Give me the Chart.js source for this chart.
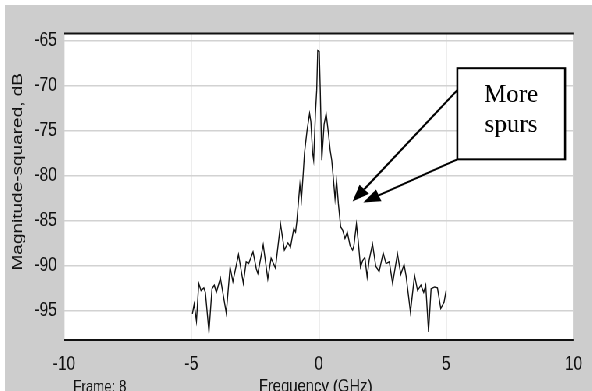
<!DOCTYPE html>
<html>
<head>
<meta charset="utf-8">
<script src="https://cdn.jsdelivr.net/npm/chart.js@4.4.1/dist/chart.umd.min.js"></script>
<style>
    html, body { margin: 0; padding: 0; background: #fff; }
    body { width: 592px; height: 391px; overflow: hidden; position: relative; }
    /* scope window is drawn wide, then squeezed horizontally */
    #panel {
        position: absolute; left: 5px; top: 5px;
        width: 752px; height: 386px;
        background: #cdcdcd;
        transform: scaleX(0.78); transform-origin: 0 0;
    }
</style>
</head>
<body>
<div id="panel"><canvas id="spectrum"></canvas></div>
<script>
"use strict";

var SQUEEZE = 0.78;

/* spectrum trace, frame 8 */
var freqGHz = [-4.96, -4.89, -4.80, -4.71, -4.62, -4.51, -4.45, -4.31, -4.19, -4.10,
    -4.02, -3.86, -3.63, -3.48, -3.37, -3.15, -2.96, -2.85, -2.75, -2.58,
    -2.45, -2.39, -2.18, -2.00, -1.87, -1.70, -1.50, -1.35, -1.21, -1.11,
    -0.98, -0.91, -0.86, -0.74, -0.68, -0.61, -0.56, -0.46, -0.36, -0.31,
    -0.24, -0.20, -0.13, -0.08, -0.04, 0.02, 0.06, 0.12, 0.21, 0.29,
    0.38, 0.45, 0.51, 0.57, 0.64, 0.70, 0.77, 0.86, 0.94, 1.03,
    1.12, 1.23, 1.33, 1.38, 1.48, 1.55, 1.64, 1.72, 1.81, 1.90,
    1.98, 2.11, 2.24, 2.37, 2.53, 2.64, 2.77, 2.90, 3.09, 3.22,
    3.35, 3.43, 3.60, 3.76, 3.88, 4.01, 4.12, 4.20, 4.31, 4.41,
    4.55, 4.66, 4.79, 4.92, 5.00];
var magDb = [-95.4, -94.3, -96.2, -92.0, -92.8, -92.5, -93.0, -97.4, -92.6, -92.2,
    -93.0, -91.4, -95.3, -90.2, -91.8, -88.8, -92.0, -89.6, -89.8, -88.5,
    -90.4, -90.9, -87.7, -91.5, -89.2, -90.3, -85.4, -88.3, -87.5, -88.0,
    -85.9, -86.3, -85.1, -81.0, -82.7, -79.8, -77.5, -75.0, -73.1, -74.0,
    -77.5, -78.3, -73.1, -70.5, -66.1, -66.2, -70.5, -78.3, -74.3, -73.1,
    -75.3, -77.2, -78.3, -80.2, -82.6, -80.5, -83.1, -85.7, -86.1, -87.0,
    -86.3, -87.8, -88.3, -87.8, -85.4, -87.3, -90.2, -89.5, -89.1, -91.3,
    -89.4, -87.6, -90.1, -90.7, -88.6, -89.8, -89.6, -92.0, -88.7, -91.0,
    -89.9, -91.2, -95.2, -91.1, -92.8, -92.2, -93.0, -92.2, -97.4, -92.6,
    -92.4, -92.5, -94.8, -94.1, -92.8];

var xTicks = [-10, -5, 0, 5, 10];
var yTicks = [-95, -90, -85, -80, -75, -70, -65];

var xTitle = 'Frequency (GHz)';
var yTitle = 'Magnitude-squared, dB';
var frameLabel = 'Frame: 8';
var noteLines = ['More', 'spurs'];

var sansFont = "'Liberation Sans', Arial, sans-serif";
var serifFont = "'Liberation Serif', 'Times New Roman', serif";

var points = freqGHz.map(function (f, i) {
    return { x: f, y: magDb[i] };
});

/* white plot face, black rails, titles and the callout */
var scopeFrame = {
    id: 'scopeFrame',
    beforeDraw: function (chart) {
        var ctx = chart.ctx, a = chart.chartArea;
        ctx.save();
        ctx.fillStyle = '#ffffff';
        ctx.fillRect(a.left, a.top, a.right - a.left, a.bottom - a.top);
        ctx.restore();
    },
    afterDraw: function (chart) {
        var ctx = chart.ctx, a = chart.chartArea;
        var xs = chart.scales.x, ys = chart.scales.y;

        ctx.save();
        ctx.strokeStyle = '#111';
        ctx.lineWidth = 2.2;
        ctx.beginPath();
        ctx.moveTo(a.left, a.top);
        ctx.lineTo(a.right, a.top);
        ctx.moveTo(a.left, a.bottom);
        ctx.lineTo(a.right, a.bottom);
        ctx.stroke();

        ctx.fillStyle = '#111';
        ctx.textBaseline = 'alphabetic';
        ctx.textAlign = 'left';
        ctx.font = '17px ' + sansFont;
        ctx.fillText(frameLabel, a.left + 12, chart.height + 1);
        ctx.textAlign = 'center';
        ctx.font = '19px ' + sansFont;
        ctx.fillText(xTitle, (a.left + a.right) / 2 - 4, chart.height + 1);

        ctx.translate(16.7, (a.top + a.bottom) / 2 - 15);
        ctx.rotate(-Math.PI / 2);
        ctx.textBaseline = 'middle';
        ctx.fillText(yTitle, 0, 0);
        ctx.restore();

        // callout is drawn unsqueezed
        var px = function (v) { return xs.getPixelForValue(v) * SQUEEZE; };
        var py = function (v) { return ys.getPixelForValue(v); };

        ctx.save();
        ctx.scale(1 / SQUEEZE, 1);
        ctx.strokeStyle = '#000';
        ctx.fillStyle = '#000';
        ctx.lineWidth = 2;

        function arrow(x0, y0, x1, y1) {
            var ang = Math.atan2(y1 - y0, x1 - x0), len = 17, half = 6.5;
            var bx = x1 - len * Math.cos(ang), by = y1 - len * Math.sin(ang);
            ctx.beginPath();
            ctx.moveTo(x0, y0);
            ctx.lineTo(bx, by);
            ctx.stroke();
            ctx.beginPath();
            ctx.moveTo(x1, y1);
            ctx.lineTo(bx + half * Math.sin(ang), by - half * Math.cos(ang));
            ctx.lineTo(bx - half * Math.sin(ang), by + half * Math.cos(ang));
            ctx.closePath();
            ctx.fill();
        }
        arrow(px(5.44), py(-70.5), px(1.33), py(-82.9));
        arrow(px(5.44), py(-78.2), px(1.75), py(-83.0));

        var bx0 = px(5.44), by0 = py(-68.06), bx1 = px(9.67), by1 = py(-78.2);
        ctx.fillStyle = '#ffffff';
        ctx.fillRect(bx0, by0, bx1 - bx0, by1 - by0);
        ctx.strokeRect(bx0, by0, bx1 - bx0, by1 - by0);

        ctx.fillStyle = '#000';
        ctx.font = '25px ' + serifFont;
        ctx.textAlign = 'center';
        ctx.textBaseline = 'alphabetic';
        ctx.fillText(noteLines[0], px(7.55), py(-71.8));
        ctx.fillText(noteLines[1], px(7.55), py(-75.15));
        ctx.restore();
    }
};

var ctx = document.getElementById('spectrum').getContext('2d');

var spectrumConfig = {
    type: 'scatter',
    data: {
        datasets: [{
            label: 'Magnitude-squared',
            data: points,
            showLine: true,
            pointRadius: 0,
            borderColor: '#111111',
            borderWidth: 1.4,
            tension: 0,
            fill: false
        }]
    },
    options: {
        animation: false,
        responsive: true,
        maintainAspectRatio: false,
        layout: {
            padding: { left: 0, top: 28.5, right: 18.7, bottom: 0 }
        },
        plugins: {
            legend: { display: false },
            tooltip: { enabled: false }
        },
        scales: {
            x: {
                type: 'linear',
                min: -10,
                max: 10,
                afterBuildTicks: function (scale) {
                    scale.ticks = xTicks.map(function (v) { return { value: v }; });
                },
                afterFit: function (scale) { scale.height = 51; },
                grid: { color: '#d2d2d2', lineWidth: 1.4, drawTicks: false },
                border: { display: false },
                ticks: {
                    padding: 12,
                    maxRotation: 0,
                    color: '#111',
                    font: { family: sansFont, size: 20 }
                }
            },
            y: {
                type: 'linear',
                min: -98.3,
                max: -64.2,
                afterBuildTicks: function (scale) {
                    scale.ticks = yTicks.map(function (v) { return { value: v }; });
                },
                afterFit: function (scale) { scale.width = 75.6; },
                grid: { color: '#d2d2d2', lineWidth: 1.6, drawTicks: false },
                border: { display: false },
                ticks: {
                    padding: 9,
                    color: '#111',
                    font: { family: sansFont, size: 20 }
                }
            }
        }
    },
    plugins: [scopeFrame]
};

var spectrumChart = new Chart(ctx, spectrumConfig);
</script>
</body>
</html>
